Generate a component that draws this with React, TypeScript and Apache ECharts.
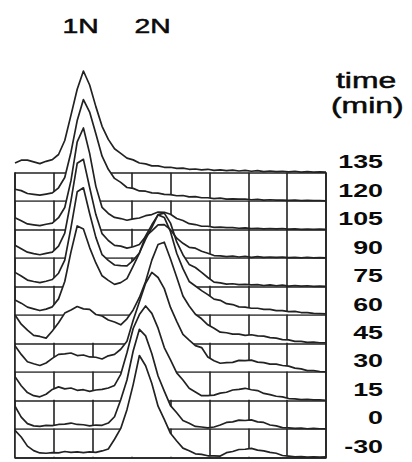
import React, { useEffect, useRef } from "react";
import * as echarts from "echarts";

// DNA-content channels shared by every histogram (8 decades of 100 channels)
const channels = [
  0, 16, 32, 48, 64, 80, 96, 112, 128, 144, 160, 176, 192, 208, 224, 240, 256,
  272, 288, 304, 320, 336, 352, 368, 384, 400, 416, 432, 448, 464, 480, 496,
  512, 528, 544, 560, 576, 592, 608, 624, 640, 656, 672, 688, 704, 720, 736,
  752, 768, 784, 800,
];

// sampling times, bottom row first
const timeLabels = ["-30", "0", "15", "30", "45", "60", "75", "90", "105", "120", "135"];

// normalised cell counts per channel (1 unit = one row of the stack)
const histM30 = [0.95,0.72,0.4,0.24,0.16,0.15,0.17,0.16,0.21,0.18,0.2,0.17,0.2,0.18,0.23,0.3,0.64,1.02,1.68,2.56,3.58,3.22,2.6,1.8,1.34,0.85,0.58,0.33,0.24,0.13,0.11,0.06,0.06,0.05,0.17,0.21,0.28,0.29,0.32,0.26,0.23,0.18,0.15,0.07,0.05,0.02,0.03,0.01,0.02,0.01,0.02];
const hist0 = [0.8,0.42,0.19,0.11,0.09,0.13,0.12,0.16,0.17,0.21,0.16,0.15,0.11,0.14,0.13,0.21,0.43,1.03,1.72,2.74,3.5,3.27,2.64,1.86,1.33,0.82,0.57,0.3,0.2,0.09,0.07,0.04,0.07,0.14,0.23,0.25,0.31,0.3,0.32,0.25,0.23,0.14,0.11,0.05,0.04,0.02,0.03,0.01,0.02,0.01,0.01];
const hist15 = [0.84,0.52,0.28,0.17,0.13,0.22,0.39,0.48,0.41,0.44,0.36,0.38,0.32,0.37,0.39,0.44,0.53,0.92,1.68,2.53,3.02,3.32,3.06,2.54,1.86,1.43,0.97,0.72,0.43,0.3,0.17,0.17,0.19,0.26,0.29,0.37,0.39,0.43,0.38,0.35,0.25,0.21,0.15,0.13,0.07,0.06,0.03,0.04,0.02,0.02,0.01];
const hist30 = [0.92,0.62,0.36,0.29,0.23,0.32,0.48,0.62,0.64,0.67,0.58,0.6,0.53,0.52,0.46,0.57,0.62,0.8,1.08,1.82,2.47,3.12,3.5,3.32,2.93,2.27,1.78,1.32,1.12,0.93,0.86,0.53,0.4,0.31,0.33,0.34,0.41,0.4,0.42,0.35,0.33,0.28,0.28,0.23,0.21,0.14,0.11,0.05,0.05,0.02,0.01];
const hist45 = [1.0,0.68,0.47,0.29,0.25,0.19,0.44,0.73,1.07,1.18,1.3,1.22,1.2,1.02,0.97,0.83,0.76,0.66,0.87,1.18,1.62,2.18,2.93,3.48,3.56,2.97,2.33,1.67,1.32,1.03,0.87,0.66,0.54,0.4,0.38,0.33,0.33,0.29,0.31,0.27,0.26,0.21,0.19,0.14,0.13,0.08,0.08,0.04,0.05,0.03,0.03];
const hist60 = [0.53,0.42,0.28,0.22,0.16,0.21,0.29,0.57,1.18,2.22,3.13,3.02,2.37,1.83,1.38,1.22,1.08,1.14,1.28,1.72,2.18,2.78,3.17,3.52,3.43,2.93,2.17,1.63,1.18,1.02,0.86,0.72,0.56,0.52,0.4,0.37,0.29,0.28,0.24,0.24,0.2,0.2,0.16,0.16,0.12,0.13,0.09,0.09,0.06,0.05,0.04];
const hist75 = [0.5,0.37,0.23,0.18,0.14,0.19,0.25,0.47,0.93,2.07,3.33,3.47,2.57,1.73,1.12,0.92,0.76,0.74,0.73,0.92,1.18,1.67,2.08,2.53,2.58,2.23,1.57,1.12,0.78,0.67,0.5,0.32,0.16,0.13,0.09,0.1,0.07,0.08,0.06,0.07,0.04,0.06,0.03,0.05,0.02,0.04,0.02,0.03,0.01,0.02,0.01];
const hist90 = [0.45,0.33,0.21,0.16,0.12,0.17,0.21,0.42,0.88,2.02,3.33,3.47,2.48,1.53,0.86,0.62,0.45,0.42,0.35,0.4,0.48,0.76,0.96,1.17,1.18,1.0,0.7,0.52,0.38,0.35,0.24,0.17,0.09,0.08,0.05,0.07,0.04,0.06,0.03,0.05,0.03,0.04,0.03,0.04,0.02,0.03,0.01,0.03,0.01,0.02,0.01];
const hist105 = [0.42,0.31,0.2,0.17,0.14,0.19,0.23,0.42,0.78,1.72,3.08,3.57,2.68,1.52,0.78,0.57,0.43,0.39,0.33,0.38,0.41,0.49,0.53,0.62,0.61,0.54,0.39,0.32,0.21,0.18,0.12,0.12,0.08,0.09,0.07,0.07,0.05,0.06,0.04,0.05,0.03,0.04,0.03,0.04,0.02,0.03,0.01,0.02,0.01,0.02,0.01];
const hist120 = [0.42,0.37,0.27,0.24,0.21,0.25,0.29,0.47,0.83,1.72,2.83,3.57,3.13,2.37,1.58,1.12,0.8,0.66,0.48,0.45,0.36,0.35,0.29,0.28,0.24,0.23,0.19,0.2,0.15,0.16,0.12,0.12,0.09,0.11,0.07,0.08,0.07,0.07,0.05,0.06,0.04,0.05,0.04,0.04,0.03,0.04,0.02,0.03,0.02,0.02,0.01];
const hist135 = [0.34,0.44,0.44,0.38,0.32,0.4,0.46,0.64,1.13,2.02,2.93,3.57,3.08,2.32,1.63,1.17,0.84,0.68,0.51,0.45,0.34,0.31,0.24,0.24,0.19,0.19,0.15,0.16,0.12,0.13,0.1,0.12,0.08,0.1,0.07,0.09,0.06,0.08,0.05,0.07,0.04,0.06,0.04,0.05,0.03,0.05,0.02,0.04,0.02,0.03,0.02];

const histograms = [histM30, hist0, hist15, hist30, hist45, hist60, hist75, hist90, hist105, hist120, hist135];

const peakLabels = ["1N", "2N"];

// layout (px)
const ROW = 28.48;
const BASE_Y = 457.5;
const LEFT = 15;
const PLOT_W = 311;
const BOX_ROWS = 10;
const TRACE_ROWS = 14;
const INK = "#222222";
const TEXT = "#0a0a0a";
const STRETCH = 1.45;

export default function App() {
  const ref = useRef<HTMLDivElement>(null);

  useEffect(() => {
    if (!ref.current) return;
    const chart = echarts.init(ref.current, null, { renderer: "svg" });

    const boxTop = BASE_Y - BOX_ROWS * ROW;
    const traceTop = BASE_Y - TRACE_ROWS * ROW;
    const boxRect = { left: LEFT, top: boxTop, width: PLOT_W, height: BOX_ROWS * ROW };

    // back row (latest time) first, so each earlier histogram hides the ones behind it
    const series: any[] = [];
    for (let k = histograms.length - 1; k >= 0; k--) {
      const h = histograms[k];
      series.push({
        type: "line",
        xAxisIndex: 1,
        yAxisIndex: 1,
        data: channels.map((c, i) => [c, k + h[i]]),
        symbol: "none",
        smooth: false,
        silent: true,
        lineStyle: { color: INK, width: 1.7, join: "round" },
        areaStyle: { color: "#ffffff", opacity: 1, origin: k + 0.03 },
      });
    }

    const hiddenAxis = { show: false };
    const boxLine = { color: INK, width: 1.6 };

    const graphic: any[] = [];
    timeLabels.forEach((t, k) => {
      graphic.push({
        type: "text",
        x: 383,
        y: BASE_Y - k * ROW - 11,
        scaleX: STRETCH,
        silent: true,
        style: {
          text: t,
          fill: TEXT,
          font: 'bold 18.5px "Liberation Sans"',
          textAlign: "right",
          textVerticalAlign: "middle",
        },
      });
    });
    const regularText = (text: string, x: number, y: number, size: number, align: string) => ({
      type: "text",
      x,
      y,
      scaleX: STRETCH,
      silent: true,
      style: {
        text,
        fill: TEXT,
        stroke: TEXT,
        lineWidth: 0.5,
        font: `${size}px "Liberation Sans"`,
        textAlign: align,
        textVerticalAlign: "middle",
      },
    });
    const peakX = [80.5, 152.5];
    peakLabels.forEach((t, i) => graphic.push(regularText(t, peakX[i], 26.5, 19.5, "center")));
    graphic.push(regularText("time", 336, 80.7, 22, "left"));
    graphic.push(regularText("(min)", 331, 105.4, 22, "left"));

    chart.setOption({
      animation: false,
      backgroundColor: "#ffffff",
      grid: [
        { ...boxRect },
        { left: LEFT, top: traceTop, width: PLOT_W, height: TRACE_ROWS * ROW },
        { ...boxRect },
      ],
      xAxis: [
        {
          gridIndex: 0, type: "value", min: 0, max: 800, interval: 100,
          axisLine: { show: false }, axisTick: { show: false }, axisLabel: { show: false },
          splitLine: { show: true, lineStyle: boxLine },
        },
        { gridIndex: 1, type: "value", min: 0, max: 800, ...hiddenAxis },
        {
          gridIndex: 2, type: "value", min: 0, max: 800, position: "bottom", z: 10,
          axisLine: { show: true, onZero: false, lineStyle: boxLine },
          axisTick: { show: false }, axisLabel: { show: false }, splitLine: { show: false },
        },
      ],
      yAxis: [
        {
          gridIndex: 0, type: "value", min: 0, max: BOX_ROWS, interval: 1,
          axisLine: { show: false }, axisTick: { show: false }, axisLabel: { show: false },
          splitLine: { show: true, lineStyle: boxLine },
        },
        { gridIndex: 1, type: "value", min: 0, max: TRACE_ROWS, ...hiddenAxis },
        {
          gridIndex: 2, type: "value", min: 0, max: BOX_ROWS, position: "left", z: 10,
          axisLine: { show: true, onZero: false, lineStyle: boxLine },
          axisTick: { show: false }, axisLabel: { show: false }, splitLine: { show: false },
        },
        {
          gridIndex: 2, type: "value", min: 0, max: BOX_ROWS, position: "right", z: 10,
          axisLine: { show: true, onZero: false, lineStyle: boxLine },
          axisTick: { show: false }, axisLabel: { show: false }, splitLine: { show: false },
        },
      ],
      series,
      graphic,
    });

    return () => chart.dispose();
  }, []);

  return (
    <div
      ref={ref}
      style={{ position: "fixed", left: 0, top: 0, width: 412, height: 462, background: "#fff" }}
    />
  );
}
